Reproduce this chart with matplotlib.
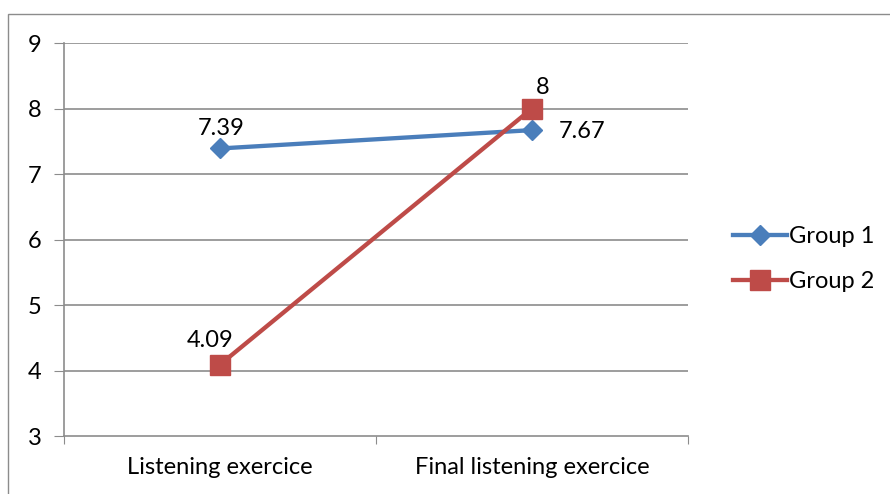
import matplotlib
matplotlib.use("Agg")
import matplotlib.pyplot as plt
from matplotlib.patches import Rectangle
from matplotlib.lines import Line2D

categories = ["Listening exercice", "Final listening exercice"]
group1 = [7.39, 7.67]
group2 = [4.09, 8.0]
series_names = ["Group 1", "Group 2"]
label_text_1 = ["7.39", "7.67"]
label_text_2 = ["4.09", "8"]

plt.rcParams["font.family"] = ["Lato", "DejaVu Sans"]

W, H = 890, 494
fig = plt.figure(figsize=(W / 100, H / 100), dpi=100)
fig.patch.set_facecolor("white")

# outer chart frame
fig.patches.append(Rectangle((8 / W, -0.05), 1.0, 1 - 14 / H + 0.05,
                             transform=fig.transFigure, fill=False,
                             edgecolor="#8c8c8c", linewidth=1.0))

ax = fig.add_axes([64 / W, 58 / H, 624 / W, 393 / H])
blue = "#4A7EBB"
red = "#BE4B48"
grid_c = "#8c8c8c"
fs = 17

x = [0.5, 1.5]
ax.set_xlim(0, 2)
ax.set_ylim(3, 9)
ax.set_yticks(range(3, 10))
ax.set_xticks([0, 1, 2], minor=False)
ax.set_xticklabels([])
ax.set_xticks(x, minor=True)
ax.set_xticklabels(categories, minor=True)
ax.tick_params(axis="x", which="minor", length=0, pad=15, labelsize=fs)
ax.tick_params(axis="x", which="major", length=6, direction="out", color=grid_c)
ax.tick_params(axis="y", length=7, direction="out", color=grid_c, labelsize=fs, pad=9)
for y in range(4, 10):
    ax.axhline(y, color=grid_c, linewidth=1.2, zorder=0)
for s in ["top", "right"]:
    ax.spines[s].set_visible(False)
for s in ["left", "bottom"]:
    ax.spines[s].set_color(grid_c)
    ax.spines[s].set_linewidth(1.2)

ax.plot(x, group1, color=blue, linewidth=3.1, marker="D", markersize=10,
        markerfacecolor=blue, markeredgecolor=blue, zorder=3)
ax.plot(x, group2, color=red, linewidth=3.1, marker="s", markersize=14,
        markerfacecolor=red, markeredgecolor=red, zorder=4)

ax.annotate(label_text_1[0], (x[0], group1[0]), xytext=(1, 14.5), textcoords="offset points",
            ha="center", va="center", fontsize=fs)
ax.annotate(label_text_1[1], (x[1], group1[1]), xytext=(19, -1), textcoords="offset points",
            ha="left", va="center", fontsize=fs)
ax.annotate(label_text_2[0], (x[0], group2[0]), xytext=(-7, 17), textcoords="offset points",
            ha="center", va="center", fontsize=fs)
ax.annotate(label_text_2[1], (x[1], group2[1]), xytext=(8, 15), textcoords="offset points",
            ha="center", va="center", fontsize=fs)

handles = [Line2D([], [], color=blue, linewidth=3.1, marker="D", markersize=10),
           Line2D([], [], color=red, linewidth=3.1, marker="s", markersize=14)]
fig.legend(handles, series_names, loc="center left", bbox_to_anchor=(721 / W, 1 - 259 / H),
           frameon=False, fontsize=fs, handlelength=2.3, handletextpad=0.1,
           labelspacing=1.0, borderpad=0)

fig.savefig("out.png", dpi=100, facecolor="white")
